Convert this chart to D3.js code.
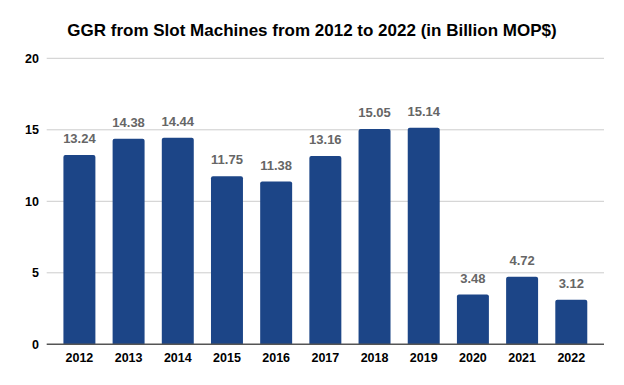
<!DOCTYPE html>
<html>
<head>
<meta charset="utf-8">
<script src="https://cdn.jsdelivr.net/npm/d3@7"></script>
<style>
  body { margin: 0; background: #fff; }
  svg { display: block; font-family: "Liberation Sans", Arial, sans-serif; }
</style>
</head>
<body>
<svg id="chart" width="624" height="385"></svg>
<script>
// data
const years = ["2012", "2013", "2014", "2015", "2016", "2017", "2018", "2019", "2020", "2021", "2022"];
const ggr = [13.24, 14.38, 14.44, 11.75, 11.38, 13.16, 15.05, 15.14, 3.48, 4.72, 3.12];
const yTicks = [0, 5, 10, 15, 20];
const title = "GGR from Slot Machines from 2012 to 2022 (in Billion MOP$)";

const svg = d3.select("#chart");
width = +svg.attr("width");
height = +svg.attr("height");

const x = d3.scaleBand()
  .domain(years)
  .range([46.7, 604])
  .paddingInner(0.35)
  .paddingOuter(0.34);

const y = d3.scaleLinear()
  .domain([0, 20])
  .range([344.3, 58.3]);

// title
svg.append("text")
  .attr("x", 312)
  .attr("y", 36)
  .attr("text-anchor", "middle")
  .attr("font-size", 17)
  .attr("font-weight", "bold")
  .attr("fill", "#000")
  .text(title);

// gridlines
svg.append("g")
  .selectAll("line")
  .data(yTicks.filter(t => t > 0))
  .join("line")
  .attr("x1", 46.7)
  .attr("x2", 604)
  .attr("y1", d => y(d))
  .attr("y2", d => y(d))
  .attr("stroke", "#cccccc")
  .attr("stroke-width", 1);

// y axis labels
const yAxis = svg.append("g")
  .attr("transform", "translate(39,0)")
  .call(d3.axisLeft(y).tickValues(yTicks).tickSize(0).tickPadding(0));
yAxis.select(".domain").remove();
yAxis.selectAll("text")
  .attr("font-size", 12.5)
  .attr("font-weight", "bold")
  .attr("fill", "#000")
  .attr("font-family", "Liberation Sans, Arial, sans-serif");

// bars, rounded top corners
const r = 2;
svg.append("g")
  .selectAll("path")
  .data(years.map((yr, i) => ({ yr, v: ggr[i] })))
  .join("path")
  .attr("d", d => {
    const x0 = x(d.yr), w = x.bandwidth(), y0 = y(d.v), b = y(0);
    return `M${x0},${b}V${y0 + r}Q${x0},${y0} ${x0 + r},${y0}H${x0 + w - r}Q${x0 + w},${y0} ${x0 + w},${y0 + r}V${b}Z`;
  })
  .attr("fill", "#1c4587");

// value labels
svg.append("g")
  .selectAll("text")
  .data(years.map((yr, i) => ({ yr, v: ggr[i] })))
  .join("text")
  .attr("x", d => x(d.yr) + x.bandwidth() / 2)
  .attr("y", d => y(d.v) - 12)
  .attr("text-anchor", "middle")
  .attr("font-size", 13)
  .attr("font-weight", "bold")
  .attr("fill", "#666666")
  .text(d => d.v.toFixed(2));

// baseline
svg.append("line")
  .attr("x1", 46.7)
  .attr("x2", 604)
  .attr("y1", y(0))
  .attr("y2", y(0))
  .attr("stroke", "#555555")
  .attr("stroke-width", 1.5);

// x axis labels
const xAxis = svg.append("g")
  .attr("transform", `translate(0,${y(0)})`)
  .call(d3.axisBottom(x).tickSize(0).tickPadding(9));
xAxis.select(".domain").remove();
xAxis.selectAll("text")
  .attr("font-size", 12.5)
  .attr("font-weight", "bold")
  .attr("fill", "#000")
  .attr("font-family", "Liberation Sans, Arial, sans-serif");
</script>
</body>
</html>
